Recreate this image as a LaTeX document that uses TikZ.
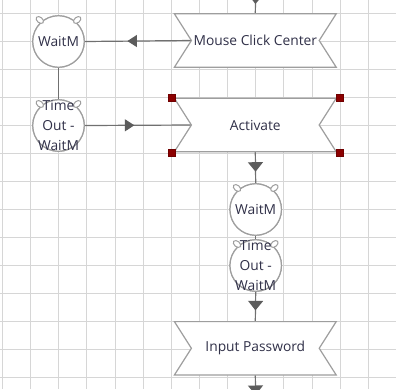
\documentclass[tikz,border=0pt]{standalone}
\usepackage{fontspec}
\setmainfont{Open Sans}
\usetikzlibrary{arrows.meta,calc,decorations.markings,shapes.geometric}
\definecolor{gridc}{RGB}{214,214,214}
\definecolor{shapec}{RGB}{158,158,158}
\definecolor{connc}{RGB}{112,112,112}
\definecolor{headc}{RGB}{92,92,92}
\definecolor{txtc}{RGB}{48,48,72}
\definecolor{handc}{RGB}{140,0,0}
\begin{document}
\begin{tikzpicture}[x=1pt,y=-1pt,
  banner/.style={draw=none, minimum width=161.4pt, minimum height=53pt, inner sep=0pt, text=txtc, font=\fontsize{13.8}{16}\selectfont},
  circ/.style={circle, draw=shapec, line width=1.2pt, fill=white, minimum size=51.5pt, inner sep=0pt},
  ear/.style={ellipse, draw=shapec, line width=1pt, fill=white, minimum width=8.5pt, minimum height=5.5pt, inner sep=0pt},
  lbl/.style={text=txtc, align=center, font=\fontsize{13.8}{20.4}\selectfont, inner sep=0pt},
  conn/.style={draw=connc, line width=1.2pt},
  headat/.style 2 args={postaction={decorate}, decoration={markings, mark=at position #1 with {\arrow{Triangle[width=#2pt,length=9.5pt,color=headc,fill=headc]}}}},
  handle/.style={rectangle, fill=handc, draw=handc!80!black, line width=0.4pt, minimum size=7pt, inner sep=0pt}
]
\useasboundingbox (0,0) rectangle (396,389);
\clip (0,0) rectangle (396,389);
\fill[white] (0,0) rectangle (396,389);
% grid
\foreach \k in {0,...,13}{
  \pgfmathsetmacro\gx{floor(2.6+28.13*\k)+0.5}
  \pgfmathsetmacro\gy{floor(13.3+28.03*\k)+0.5}
  \draw[gridc, line width=1.3pt] (\gx,0) -- (\gx,389);
  \draw[gridc, line width=1.3pt] (0,\gy) -- (396,\gy);
}
% nodes
\node[banner] (mcc) at (255.3,40.5) {Mouse Click Center};
\node[banner] (act) at (255.3,125) {Activate};
\node[banner] (ip) at (255.3,348.3) {Input Password};
\node[circ] (w1) at (58.5,41.5) {};
\node[circ] (t1) at (58.5,125.5) {};
\node[circ] (w2) at (255.7,209.5) {};
\node[circ] (t2) at (255.7,265.5) {};
\coordinate (topin) at (255.7,-12);
\coordinate (botout) at (255.7,400);
\coordinate (mccnotch) at ([xshift=18pt]mcc.west);
\coordinate (actnotch) at ([xshift=18pt]act.west);
% connectors
\draw[conn, headat={16pt}{15}] (topin) -- (mcc.north);
\draw[conn, headat={65pt}{12}] (mccnotch) -- (w1.east);
\draw[conn] (w1.south) -- (t1.north);
\draw[conn, headat={49.5pt}{12}] (t1.east) -- (actnotch);
\draw[conn, headat={20pt}{15}] (act.south) -- (w2.north);
\draw[conn] (w2.south) -- (t2.north);
\draw[conn, headat={18.5pt}{15}] (t2.south) -- (ip.north);
\draw[conn, headat={20pt}{15}] (ip.south) -- (botout);
% banner outlines
\foreach \n in {mcc,act,ip}{
  \draw[shapec, line width=1.2pt, fill=white, line join=miter]
    (\n.north west) -- (\n.north east) -- ([xshift=-17pt]\n.east) -- (\n.south east)
    -- (\n.south west) -- ([xshift=17pt]\n.west) -- cycle;
}
\node[lbl] at (mcc.center) {Mouse Click Center};
\node[lbl] at (act.center) {Activate};
\node[lbl] at (ip.center) {Input Password};
% circles redrawn on top with ears
\foreach \n in {w1,t1,w2,t2}{
  \node[circ] at (\n.center) {};
  \node[ear, rotate=-40] at ($(\n.center)!28.5pt!(\n.131)$) {};
  \node[ear, rotate=40] at ($(\n.center)!28.5pt!(\n.49)$) {};
}
\node[lbl] at (w1.center) {WaitM};
\node[lbl] at (w2.center) {WaitM};
\node[lbl] at (t1.center) {Time\\Out -\\WaitM};
\node[lbl] at (t2.center) {Time\\Out -\\WaitM};
% selection handles
\node[handle] at ([shift={(-3,-0.5)}]act.north west) {};
\node[handle] at ([shift={(3,-0.5)}]act.north east) {};
\node[handle] at ([shift={(-3,1.3)}]act.south west) {};
\node[handle] at ([shift={(3,1.3)}]act.south east) {};
\end{tikzpicture}
\end{document}
